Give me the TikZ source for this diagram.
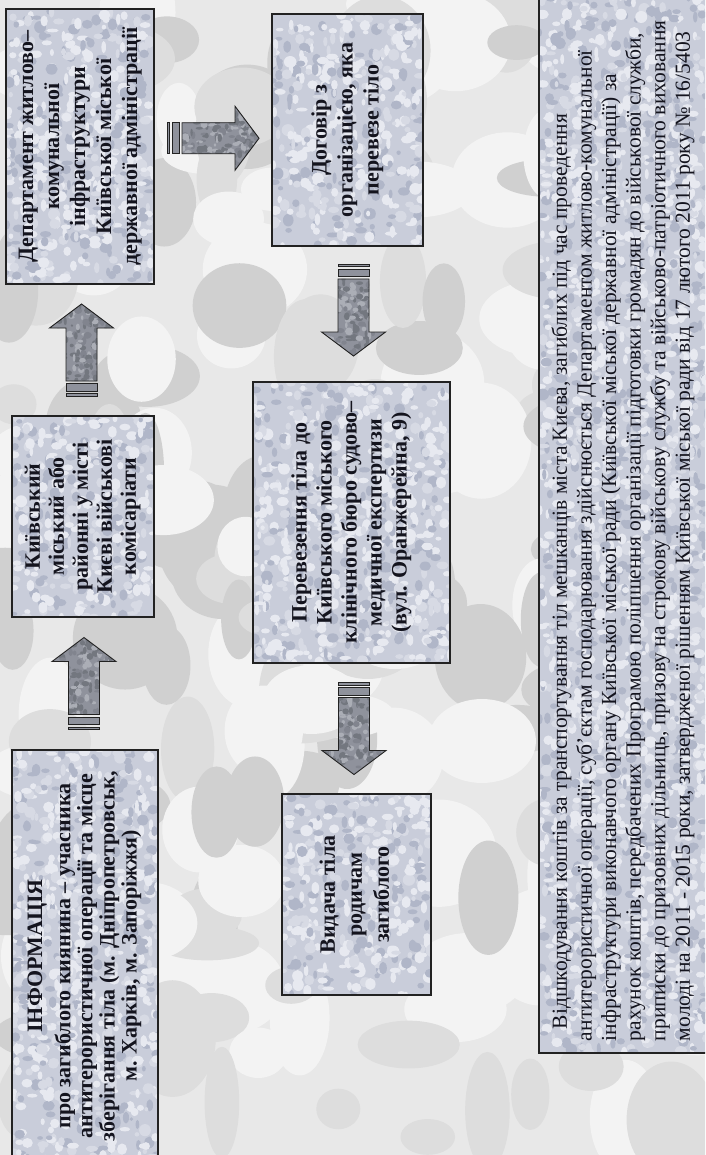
\documentclass[tikz,border=0pt]{standalone}
\usepackage{fontspec}
\usepackage{graphicx}
\setmainfont{Liberation Serif}
\usetikzlibrary{calc}

\definecolor{bgbase}{HTML}{E8E8E8}
\definecolor{bgA}{HTML}{F3F3F3}
\definecolor{bgB}{HTML}{DDDDDD}
\definecolor{bgC}{HTML}{D0D0D0}
\definecolor{boxbase}{HTML}{C9CDDA}
\definecolor{boxA}{HTML}{E7E9F0}
\definecolor{boxB}{HTML}{B0B6C8}
\definecolor{boxC}{HTML}{D7DAE4}
\definecolor{arrbase}{HTML}{8F929C}
\definecolor{arrA}{HTML}{73777F}
\definecolor{arrB}{HTML}{ABAEB6}
\definecolor{arrC}{HTML}{81848E}
\definecolor{boxline}{HTML}{222222}
\definecolor{txt}{HTML}{14141E}

\newcommand\camo[5]{%
  \pgfpointanchor{path picture bounding box}{south west}\pgfgetlastxy{\cxa}{\cya}%
  \pgfpointanchor{path picture bounding box}{north east}\pgfgetlastxy{\cxb}{\cyb}%
  \pgfmathtruncatemacro\cn{max(1,abs((\cxb-\cxa)/#4)*abs((\cyb-\cya)/#4))}%
  \foreach \ci in {1,...,\cn}{%
    \pgfmathsetmacro\px{\cxa+rnd*(\cxb-\cxa)}%
    \pgfmathsetmacro\py{\cya+rnd*(\cyb-\cya)}%
    \pgfmathsetmacro\prx{#5*(0.4+rnd)}%
    \pgfmathsetmacro\pry{#5*(0.4+rnd)}%
    \pgfmathsetmacro\pc{rnd}%
    \ifdim\pc pt<0.45pt\def\cc{#1}\else\ifdim\pc pt<0.75pt\def\cc{#2}\else\def\cc{#3}\fi\fi
    \fill[\cc] (\px pt,\py pt) ellipse [x radius=\prx pt, y radius=\pry pt];
  }%
}

\newcommand\vlines[3]{\rotatebox{90}{\fontsize{#1}{#2}\selectfont\bfseries\color{txt}\begin{tabular}{@{}c@{}}#3\end{tabular}}}

\tikzset{
  box/.style={draw=boxline, line width=1.3pt, fill=boxbase, inner sep=0pt,
    path picture={\camo{boxA}{boxB}{boxC}{9}{4.5}}},
  sarrow/.pic={
    \path[draw=boxline, line width=0.9pt, fill=arrbase, path picture={\camo{arrA}{arrB}{arrC}{5}{3}}]
      (-31,-15.5) -- (22,-15.5) -- (22,-32) -- (46,0) -- (22,32) -- (22,15.5) -- (-31,15.5) -- cycle;
    \path[draw=boxline, line width=0.9pt, fill=arrbase] (-41,-15.5) rectangle (-33.5,15.5);
    \path[draw=boxline, line width=0.9pt, fill=arrbase] (-46,-15.5) rectangle (-43.5,15.5);
  }
}

\begin{document}
\begin{tikzpicture}[x=1pt,y=-1pt]
\pgfmathsetseed{12}
\useasboundingbox (0,0) rectangle (705,1155);
\clip (0,0) rectangle (705,1155);
\path[fill=bgbase, path picture={\camo{bgA}{bgB}{bgC}{62}{42}}] (0,0) rectangle (705,1155);

\node[box, minimum width=146pt, minimum height=412pt] (b1) at (85,956)
  {\vlines{22}{22}{ІНФОРМАЦІЯ\\[6pt] про загиблого киянина – учасника\\ антитерористичної операції та місце\\ зберігання тіла (м. Дніпропетровськ,\\ м. Харків, м. Запоріжжя)}};
\node[box, minimum width=142pt, minimum height=201pt] (b2) at (83,516.5)
  {\vlines{22}{24}{Київський\\ міський або\\ районні у місті\\ Києві військові\\ комісаріати}};
\node[box, minimum width=148pt, minimum height=275pt] (b3) at (80,146.5)
  {\vlines{22}{26}{Департамент житлово–\\ комунальної\\ інфраструктури\\ Київської міської\\ державної адміністрації}};
\node[box, minimum width=151pt, minimum height=232pt] (b4) at (347.5,130)
  {\vlines{22}{26}{Договір з\\ організацією, яка\\ перевезе тіло}};
\node[box, minimum width=197pt, minimum height=281pt] (b5) at (351.5,522.5)
  {\vlines{22}{25}{Перевезення тіла до\\ Київського міського\\ клінічного бюро судово–\\ медичної експертизи\\ (вул. Оранжерейна, 9)}};
\node[box, minimum width=149pt, minimum height=201pt] (b6) at (356.5,894.5)
  {\vlines{22}{27}{Видача тіла\\ родичам\\ загиблого}};
\node[box, minimum width=169pt, minimum height=1060pt] (b7) at (623.5,523)
  {\rotatebox{90}{\makebox[1036pt][l]{\fontsize{21.5}{24.6}\selectfont\color{txt}\begin{tabular}{@{}l@{}}
  \hspace*{12pt}Відшкодування коштів за транспортування тіл мешканців міста Києва, загиблих під час проведення\\
  антитерористичної операції, суб’єктам господарювання здійснюється Департаментом житлово-комунальної\\
  інфраструктури виконавчого органу Київської міської ради (Київської міської державної адміністрації) за\\
  рахунок коштів, передбачених Програмою поліпшення організації підготовки громадян до військової служби,\\
  приписки до призовних дільниць, призову на строкову військову службу та військово-патріотичного виховання\\
  молоді на 2011 - 2015 роки, затвердженої рішенням Київської міської ради від 17 лютого 2011 року № 16/5403
  \end{tabular}}}};

\pic[rotate=90] at ($(b1.north)!0.5!(b2.south)$) {sarrow};
\pic[rotate=90] at ($(b2.north)!0.5!(b3.south)$) {sarrow};
\pic at ($(b3.east)!0.5!(b4.west)$) {sarrow};
\pic[rotate=-90] at ($(b4.south)!0.5!(b5.north)+(4,-4)$) {sarrow};
\pic[rotate=-90] at ($(b5.south)!0.5!(b6.north)$) {sarrow};
\end{tikzpicture}
\end{document}
